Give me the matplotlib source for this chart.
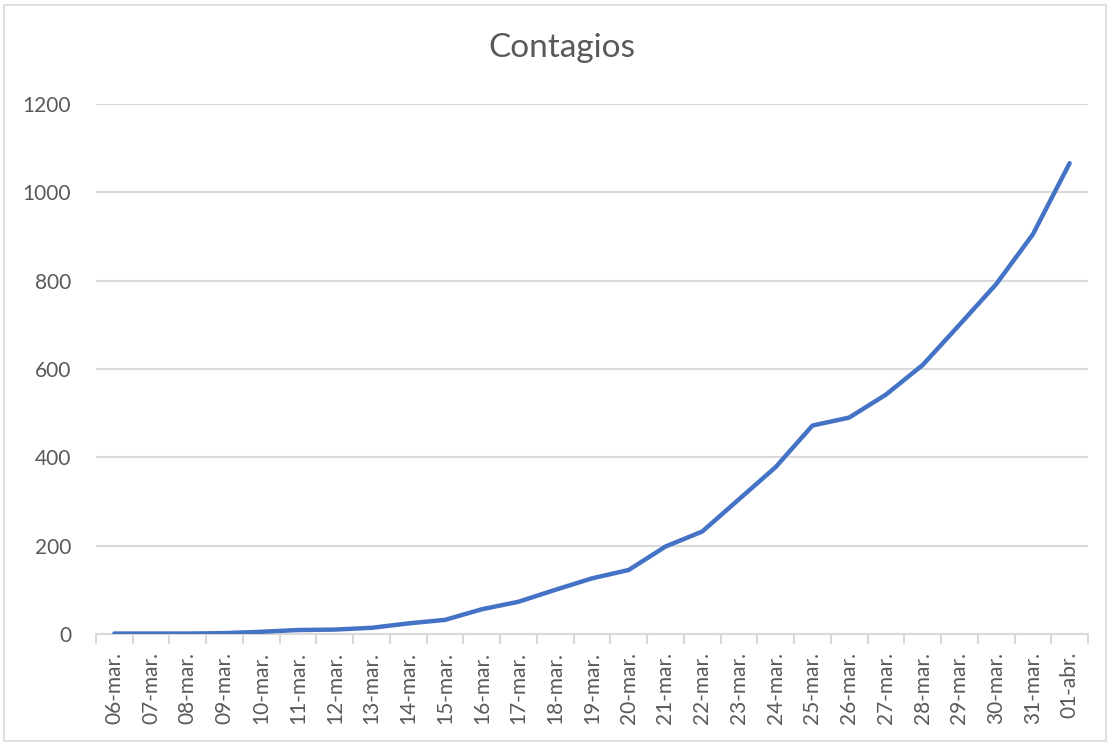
import numpy as np
import matplotlib
matplotlib.use("Agg")
from matplotlib import pyplot as plt
from matplotlib.patches import Rectangle


# data
dias = ['06-mar.', '07-mar.', '08-mar.', '09-mar.', '10-mar.', '11-mar.', '12-mar.',
        '13-mar.', '14-mar.', '15-mar.', '16-mar.', '17-mar.', '18-mar.', '19-mar.',
        '20-mar.', '21-mar.', '22-mar.', '23-mar.', '24-mar.', '25-mar.', '26-mar.',
        '27-mar.', '28-mar.', '29-mar.', '30-mar.', '31-mar.', '01-abr.']
contagios = [1, 1, 1, 2, 5, 9, 10, 14, 24, 32, 56, 73, 100, 126, 145,
             198, 232, 305, 378, 472, 490, 542, 609, 700, 792, 905, 1066]
y_ticks = [0, 200, 400, 600, 800, 1000, 1200]

W, H = 1109, 744
gris_texto = '#595959'
gris_linea = '#D9D9D9'
azul = '#4472C4'

plt.rcParams['font.family'] = ['Lato', 'DejaVu Sans']

fig = plt.figure(figsize=(W / 100, H / 100), dpi=100)
fig.patch.set_facecolor('white')

# chart area border
fig.patches.append(Rectangle((4 / W, 1 - 741 / H), 1102 / W, 736 / H,
                             transform=fig.transFigure, fill=False,
                             edgecolor=gris_linea, linewidth=1.2))

ax = fig.add_axes([96 / W, 1 - 634 / H, (1088 - 96) / W, (634 - 104) / H])

x = np.arange(len(dias))
ax.plot(x, contagios, color=azul, linewidth=3.2, solid_capstyle='round',
        solid_joinstyle='round', zorder=3)

ax.set_xlim(-0.5, len(dias) - 0.5)
ax.set_ylim(0, 1200)
ax.set_yticks(y_ticks)
ax.set_yticklabels([str(v) for v in y_ticks], fontsize=15, color=gris_texto)
ax.tick_params(axis='y', length=0, pad=18)
ax.yaxis.grid(True, color=gris_linea, linewidth=1.5)
ax.set_axisbelow(True)

ax.set_xticks(x)
ax.set_xticklabels(dias, rotation=90, fontsize=15, color=gris_texto)
ax.tick_params(axis='x', which='major', length=0, pad=13)
ax.set_xticks(np.arange(-0.5, len(dias)), minor=True)
ax.tick_params(axis='x', which='minor', length=7, color=gris_linea, width=1.5)

for s in ['top', 'right', 'left']:
    ax.spines[s].set_visible(False)
ax.spines['bottom'].set_color(gris_linea)
ax.spines['bottom'].set_linewidth(1.5)

fig.text(0.507, 1 - 48 / H, 'Contagios', ha='center', va='center',
         fontsize=24, color=gris_texto)

fig.savefig('out.png', dpi=100)
